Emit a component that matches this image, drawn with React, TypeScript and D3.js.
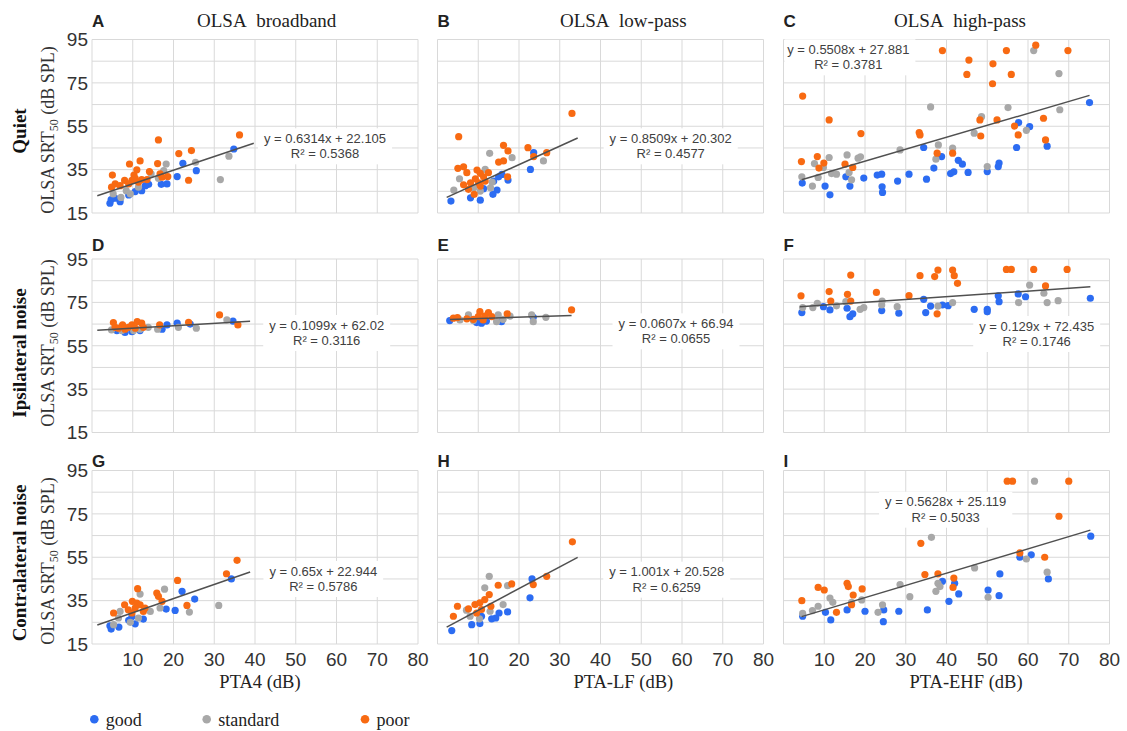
import React, { useEffect, useRef } from 'react';
import * as d3 from 'd3';

type P = [number, number];

// ---------- Panel A (PTA4, quiet) ----------
const aGood: P[] = [[34.8,44.5],[22.3,37.9],[25.6,34.5],[20.9,31.8],[18.4,28.4],[17,28.2],[13.9,28.2],[12.2,25.3],[10.6,24.9],[9,23.3],[5.7,21.8],[4.4,19.5],[4.7,21.2],[6.9,20.2],[13.1,27.6]];
const aStandard: P[] = [[33.6,41.2],[31.5,30.4],[25.4,38.4],[18.2,37.6],[17.6,34.5],[14.5,33],[16.3,31],[11.4,26.9],[9.4,23.8],[7.1,22.2],[5.2,23.8],[8.4,25.3]];
const aPoor: P[] = [[36.2,51],[16.3,48.7],[24.4,43.8],[21.3,42.4],[9.2,37.6],[11.8,39],[16.1,37.8],[11,34.9],[5,32.5],[14.1,34.1],[10.3,32.5],[17.2,31.5],[18.6,31.8],[23.7,30.1],[8,30],[9.8,30],[12.2,30.4],[5.7,28.4],[6.9,27.6],[4.8,26.9],[9,28.4],[11.4,29.2],[16.7,33],[13.5,30.4],[10.6,31]];

// ---------- Panel B (PTA-LF, quiet) ----------
const bGood: P[] = [[23.6,42.8],[22.8,35.1],[15.8,32.8],[15,31.7],[17.3,30.2],[13.8,29.7],[11.3,26.2],[14.6,25.6],[13.6,23.6],[8.1,22],[10.5,20.9],[3.3,20.5]];
const bStandard: P[] = [[12.8,42.5],[18.3,40.5],[26,39],[11.7,35.1],[5.4,30.8],[13.4,29.2],[8.9,26.6],[4,25.6],[13,26.6],[10.5,25.1]];
const bPoor: P[] = [[33,60.9],[5.2,50.2],[16.2,46.2],[17.3,43.6],[22.2,45.1],[26.8,42.8],[23.6,41],[15,38.5],[16.2,39],[5,35.6],[6.4,36.3],[7.2,33.6],[9.7,34.8],[10.5,33.3],[11.3,31.7],[12.5,33.6],[9.3,30.8],[8.1,28.9],[10.1,28.9],[6.4,28],[10.5,27.4],[9,23.6],[17.2,31.7],[7.6,25.9],[11.7,29.7]];

// ---------- Panel C (PTA-EHF, quiet) ----------
const cGood: P[] = [[75.1,65.9],[57.7,56.7],[60.4,54.8],[57.2,45.2],[64.7,45.8],[34.4,45.2],[38.8,41],[42.9,39.3],[43.9,37.5],[36.9,35.7],[52.9,38],[52.7,36.4],[50,34.1],[45.3,33.7],[41,33.2],[41.8,34],[30.8,32.9],[35.1,30.6],[28,29.7],[24.1,32.9],[23,32.5],[19.7,31.1],[24.2,27.1],[24.3,24.5],[16.3,27.4],[15.3,31.7],[10.2,27.4],[11.4,23.4],[4.6,28.8]];
const cStandard: P[] = [[36.1,63.9],[48.6,59.4],[55.1,63.6],[67.6,79.3],[61.4,89.9],[67.8,62.6],[46.8,51.8],[59.6,53.1],[28.6,44.1],[38,46.4],[41.5,44.9],[37.4,39.8],[50,36.4],[4.5,31.7],[7.6,37.8],[11.2,40.6],[15.6,41.8],[18.3,40.3],[18.9,40.9],[9.8,36],[11.8,33.2],[13,32.9],[8.5,31.4],[7.1,27.4],[16.1,33.7],[16.7,30.3]];
const cPoor: P[] = [[4.7,68.9],[39,89.9],[45.5,85.5],[45,78.9],[51.4,83.8],[51.3,74.6],[54.7,89.9],[55.9,78.9],[61.9,92.4],[69.8,89.9],[11.2,57.9],[19,51.6],[33.3,52.1],[33.5,51],[48.2,57.9],[52.4,57.9],[48.4,50.5],[56.7,55.1],[57.6,51],[63.8,58.7],[64.3,48.7],[37.7,42.6],[41.5,42.6],[4.4,38.7],[8.3,41],[9.9,38],[8.7,35.7],[15.1,37.5],[17,36]];

// ---------- Panel D (PTA4, ipsilateral noise) ----------
const dGood: P[] = [[34.6,66.4],[24.1,65],[20.9,65.4],[18.4,64.6],[17.2,62.6],[8.1,61.1],[9.8,61.5],[11.8,62],[6.1,62]];
const dStandard: P[] = [[33.1,66.9],[25.6,63.1],[21.2,63.5],[16.1,62.6],[13.8,63.5],[4.8,62.3],[7.3,62],[10.2,62],[11.8,62.6]];
const dPoor: P[] = [[5.25,65.7],[5.66,63.5],[7.5,64.6],[8.9,63.5],[9.8,64.6],[11.1,66.1],[12.2,65.4],[12.6,63.5],[16.6,64.6],[23.7,65.8],[31.3,69.2],[35.8,64.6],[6.5,63.1],[10.6,63.1],[8.1,62.6]];

// ---------- Panel E (PTA-LF, ipsilateral noise) ----------
const eGood: P[] = [[3,66.6],[23.5,68.1],[15.7,66.1],[10.8,65.4],[9.6,65.7],[12,66.4]];
const eStandard: P[] = [[26.6,68.1],[23.1,69.2],[23.5,66.1],[14.9,69.2],[17.8,68.7],[7.6,69.2],[8.8,66.6],[14.5,66.1],[16.1,67.2],[5.5,66.9]];
const ePoor: P[] = [[32.9,71.5],[3.9,67.7],[4.9,68],[7.2,67.4],[10.4,70.7],[12.5,70.3],[10,68.4],[11.6,68.7],[13.3,68.4],[17.1,69.7],[8.8,67.2],[11.2,66.9]];

// ---------- Panel F (PTA-EHF, ipsilateral noise) ----------
const fGood: P[] = [[4.5,70.3],[9.8,73],[11.4,71.5],[15.6,72.3],[16.3,68.4],[17,69.7],[24.1,71.2],[28.3,70],[34.4,76.4],[36.1,73.3],[34.9,70.3],[39,73.8],[40.4,73.5],[46.8,71.8],[50,71.8],[50,70.7],[52.7,78],[52.9,75.3],[57.6,78.9],[59.4,77.6],[75.3,76.9]];
const fStandard: P[] = [[4.7,72.6],[7.2,72.6],[8.3,74.6],[13,73.4],[15.3,75.3],[18.8,71.8],[19.7,72.6],[24.2,75.6],[24.1,73.8],[27.9,73],[37.9,73.3],[41.5,74.9],[60.4,83],[63.9,79.2],[57.7,74.9],[64.7,74.9],[67.4,75.8]];
const fPoor: P[] = [[4.3,78],[11.2,80],[11.6,75.6],[16.5,87.6],[15.7,78.7],[16.5,75.6],[22.8,79.6],[30.8,78.1],[33.5,87.3],[37.1,86.9],[37.9,89.9],[41.5,89.9],[41.9,87.3],[42.7,83.8],[37.7,69.7],[54.7,90.2],[55.9,90.2],[61.4,90.2],[64.3,82.6],[69.6,90.2]];

// ---------- Panel G (PTA4, contralateral noise) ----------
const gGood: P[] = [[34.2,45],[22.1,39.3],[25.2,35.7],[18.2,31.1],[20.4,30.5],[12.6,26.5],[10.6,24.3],[9,25.9],[6.6,22.8],[4.7,21.9],[4.4,23.4],[9.8,27.7]];
const gStandard: P[] = [[17.8,40.3],[11.8,38],[31.1,32.8],[23.9,29.7],[16.7,31.6],[14.3,30],[6.9,30],[6.5,27],[9.4,25],[5.3,23.9],[11.4,27]];
const gPoor: P[] = [[35.6,53.6],[33,47.4],[21,44.3],[11.2,40.5],[15.9,38.5],[16.3,37],[17.2,34.7],[23.3,32.8],[8,33.1],[9.9,34.7],[11,33.9],[11.8,33.1],[8.9,30.8],[10.6,31.6],[12.6,30],[5.3,29.3],[9.8,29.3],[13,31.6]];

// ---------- Panel H (PTA-LF, contralateral noise) ----------
const hGood: P[] = [[23.2,45],[22.7,36.3],[17.2,29.8],[15.1,29.3],[14.3,27],[13.3,26.6],[10.8,27.8],[10.4,24.4],[8.4,23.9],[3.5,21.2]];
const hStandard: P[] = [[12.7,46.2],[11.6,40.9],[17.2,41.9],[16.1,33.2],[7.1,30.6],[10.3,26.6],[8,27.8],[12.9,30.1]];
const hPoor: P[] = [[33.1,62.1],[26.8,46.2],[23.5,42.4],[14.9,42.1],[18.2,42.7],[12.7,37.8],[4.9,32.4],[3.9,27.8],[7.6,31.2],[9.2,33.2],[10.4,34],[11.6,35.5],[13.1,32.4],[10.8,30.9],[9.6,29.3]];

// ---------- Panel I (PTA-EHF, contralateral noise) ----------
const iGood: P[] = [[75.4,64.7],[58,55],[60.8,56.1],[65,45],[53.1,47.3],[39,43.9],[42,43],[50.2,39.9],[43,38.1],[52.9,37.3],[40.6,34.7],[35.3,30.7],[28.3,30.1],[24.6,30.7],[20,30.1],[24.5,25.3],[15.6,30.7],[10.3,29.6],[11.6,26.1],[4.7,27.8]];
const iStandard: P[] = [[61.6,90.1],[36.3,64.2],[59.6,54.2],[46.9,50.1],[64.7,48.1],[28.6,42.4],[37.9,43],[38.4,41.5],[37.4,39.3],[31,36.8],[50.2,36.5],[19.2,35.3],[11.4,36.2],[12.1,34.2],[8.5,32.4],[7.1,30.4],[4.7,29.1],[16.7,34.2],[24.3,33.1],[23.2,29.6]];
const iPoor: P[] = [[54.9,90.1],[56.2,90.1],[70,90.1],[67.6,73.9],[33.7,61.4],[58,57],[64.1,55],[34.7,47],[37.9,47.3],[41.8,45.4],[41.6,41.1],[4.5,35],[8.5,41.1],[10,39.9],[15.6,43],[15.9,41.5],[19.3,40.4],[17.1,37.6],[16.7,33.1],[13,29.6]];

// ---------- Regression, labels and ticks ----------
const panelLetters = ['A', 'B', 'C', 'D', 'E', 'F', 'G', 'H', 'I'];
const columnTitles = ['OLSA\u00a0 broadband', 'OLSA\u00a0 low-pass', 'OLSA\u00a0 high-pass'];
const rowTitles = ['Quiet', 'Ipsilateral noise', 'Contralateral noise'];
const xTitles = ['PTA4 (dB)', 'PTA-LF (dB)', 'PTA-EHF (dB)'];
const slopes = [0.6314, 0.8509, 0.5508, 0.1099, 0.0607, 0.129, 0.65, 1.001, 0.5628];
const intercepts = [22.105, 20.302, 27.881, 62.02, 66.94, 72.435, 22.944, 20.528, 25.119];
const fitFrom = [1.3, 2.25, 4.45, 1.3, 3.06, 4.0, 1.3, 2.25, 4.45];
const fitTo = [39.7, 34.4, 75.1, 38.8, 32.9, 75.3, 38.8, 34.4, 75.3];
const eqTexts = ['y = 0.6314x + 22.105', 'y = 0.8509x + 20.302', 'y = 0.5508x + 27.881', 'y = 0.1099x + 62.02', 'y = 0.0607x + 66.94', 'y = 0.129x + 72.435', 'y = 0.65x + 22.944', 'y = 1.001x + 20.528', 'y = 0.5628x + 25.119'];
const r2Texts = ['R² = 0.5368', 'R² = 0.4577', 'R² = 0.3781', 'R² = 0.3116', 'R² = 0.0655', 'R² = 0.1746', 'R² = 0.5786', 'R² = 0.6259', 'R² = 0.5033'];
const xTicks = [0, 10, 20, 30, 40, 50, 60, 70, 80];
const xTickLabels = [10, 20, 30, 40, 50, 60, 70, 80];
const yTicks = [15, 25, 35, 45, 55, 65, 75, 85, 95];
const yTickLabels = [15, 35, 55, 75, 95];
const legendLabels = ['good', 'standard', 'poor'];

const panelData: P[][][] = [
  [aGood, aStandard, aPoor], [bGood, bStandard, bPoor], [cGood, cStandard, cPoor],
  [dGood, dStandard, dPoor], [eGood, eStandard, ePoor], [fGood, fStandard, fPoor],
  [gGood, gStandard, gPoor], [hGood, hStandard, hPoor], [iGood, iStandard, iPoor],
];

// ---------- Layout & style ----------
const W = 1127, H = 731;
const colLeft = [92, 437.5, 783.5];
const rowTop = [39.5, 259, 470.5];
const PW = 326, PH = 173.5;
const COLORS = ['#2c6cf2', '#a8a8a8', '#f86a12'];
const GRID = '#d9d9d9';
const SANS = '"Liberation Sans", Arial, sans-serif';
const SERIF = '"Liberation Serif", "Times New Roman", serif';
const eqPos: [number, number][] = [
  [233, 98.8], [233.2, 98.8], [64.8, 9.8],
  [234.7, 66], [238.5, 64.3], [253.2, 67],
  [231.3, 100.5], [229.2, 101.2], [162.2, 31.2],
];
const colTitleX = [266.7, 623.3, 960];
const xTitleX = [260, 623.3, 966];
const rowTitleY = [131, 353, 563];
const yTitleY = [130, 343, 561];
const letterBase = [27, 251, 467];
const legendX = [94.3, 206.7, 365];

export default function App() {
  const ref = useRef<SVGSVGElement>(null);

  useEffect(() => {
    const svg = d3.select(ref.current);
    svg.selectAll('*').remove();
    svg.append('rect').attr('width', W).attr('height', H).attr('fill', '#fff');

    for (let p = 0; p < 9; p++) {
      const col = p % 3, row = Math.floor(p / 3);
      const x0 = colLeft[col], y0 = rowTop[row];
      const x = d3.scaleLinear().domain([0, 80]).range([x0, x0 + PW]);
      const y = d3.scaleLinear().domain([15, 95]).range([y0 + PH, y0]);
      const g = svg.append('g');

      g.selectAll('line.v').data(xTicks).enter().append('line')
        .attr('x1', d => x(d)).attr('x2', d => x(d)).attr('y1', y(15)).attr('y2', y(95))
        .attr('stroke', GRID).attr('stroke-width', 1);
      g.selectAll('line.h').data(yTicks).enter().append('line')
        .attr('x1', x(0)).attr('x2', x(80)).attr('y1', d => y(d)).attr('y2', d => y(d))
        .attr('stroke', GRID).attr('stroke-width', 1);

      const [ex, ey] = eqPos[p];
      const cx = x0 + ex, cy = y0 + ey;
      const boxG = g.append('g');
      const t1 = g.append('text').attr('x', cx).attr('y', cy + 4.5).attr('text-anchor', 'middle')
        .attr('font-family', SANS).attr('font-size', 13).text(eqTexts[p]);
      const b1 = (t1.node() as SVGTextElement).getBBox();
      let bx = b1.x - 6, bw = b1.width + 12;
      if (bx < x0 + 1) { bw -= (x0 + 1 - bx); bx = x0 + 1; }
      boxG.append('rect').attr('x', bx).attr('y', cy - 10).attr('width', bw).attr('height', 36).attr('fill', '#fff');
      t1.remove();

      panelData[p].forEach((pts, gi) => {
        g.selectAll(`circle.g${gi}`).data(pts).enter().append('circle')
          .attr('cx', d => x(d[0])).attr('cy', d => y(d[1])).attr('r', 3.6)
          .attr('fill', COLORS[gi]);
      });

      const line = d3.line<number>().x(d => x(d)).y(d => y(slopes[p] * d + intercepts[p]));
      g.append('path').attr('d', line([fitFrom[p], fitTo[p]]) as string)
        .attr('stroke', '#505050').attr('stroke-width', 1.5).attr('fill', 'none');

      g.append('text').attr('x', cx).attr('y', cy + 4.5).attr('text-anchor', 'middle')
        .attr('font-family', SANS).attr('font-size', 13).attr('fill', '#404040').text(eqTexts[p]);
      g.append('text').attr('x', cx).attr('y', cy + 15.5 + 4.5).attr('text-anchor', 'middle')
        .attr('font-family', SANS).attr('font-size', 13).attr('fill', '#404040').text(r2Texts[p]);

      g.append('text').attr('x', x0).attr('y', letterBase[row]).attr('font-family', SANS)
        .attr('font-weight', 'bold').attr('font-size', 17).attr('fill', '#222').text(panelLetters[p]);

      if (col === 0) {
        g.selectAll('text.yt').data(yTickLabels).enter().append('text')
          .attr('x', x0 - 4).attr('y', d => y(d)).attr('dy', '0.36em').attr('text-anchor', 'end')
          .attr('font-family', SANS).attr('font-size', 19).attr('fill', '#333').text(d => String(d));
      }
      if (row === 2) {
        g.selectAll('text.xt').data(xTickLabels).enter().append('text')
          .attr('x', d => x(d)).attr('y', y0 + PH + 21.7).attr('text-anchor', 'middle')
          .attr('font-family', SANS).attr('font-size', 19).attr('fill', '#333').text(d => String(d));
        g.append('text').attr('x', xTitleX[col]).attr('y', 688).attr('text-anchor', 'middle')
          .style('font-family', SERIF).attr('font-size', 18.5).attr('fill', '#222').text(xTitles[col]);
      }
      if (row === 0) {
        g.append('text').attr('x', colTitleX[col]).attr('y', 27).attr('text-anchor', 'middle')
          .style('font-family', SERIF).attr('font-size', 19).attr('fill', '#222')
          .text(columnTitles[col]);
      }
    }

    for (let r = 0; r < 3; r++) {
      svg.append('text').attr('transform', `translate(26,${rowTitleY[r]}) rotate(-90)`)
        .attr('text-anchor', 'middle').style('font-family', SERIF).attr('font-weight', 'bold')
        .attr('font-size', 19).attr('fill', '#111').text(rowTitles[r]);
      const t = svg.append('text').attr('transform', `translate(54,${yTitleY[r]}) rotate(-90)`)
        .attr('text-anchor', 'middle').style('font-family', SERIF).attr('font-size', 18)
        .attr('fill', '#333');
      t.append('tspan').text('OLSA SRT');
      t.append('tspan').attr('font-size', 12).attr('dy', 4).text('50');
      t.append('tspan').attr('dy', -4).text('\u00a0(dB SPL)');
    }

    legendLabels.forEach((lab, i) => {
      svg.append('circle').attr('cx', legendX[i]).attr('cy', 719.3).attr('r', 4.3).attr('fill', COLORS[i]);
      svg.append('text').attr('x', legendX[i] + 11.5).attr('y', 725.5).style('font-family', SERIF)
        .attr('font-size', 18).attr('fill', '#222').text(lab);
    });
  }, []);

  return (
    <svg ref={ref} width={W} height={H} style={{ position: 'absolute', left: 0, top: 0 }} />
  );
}
